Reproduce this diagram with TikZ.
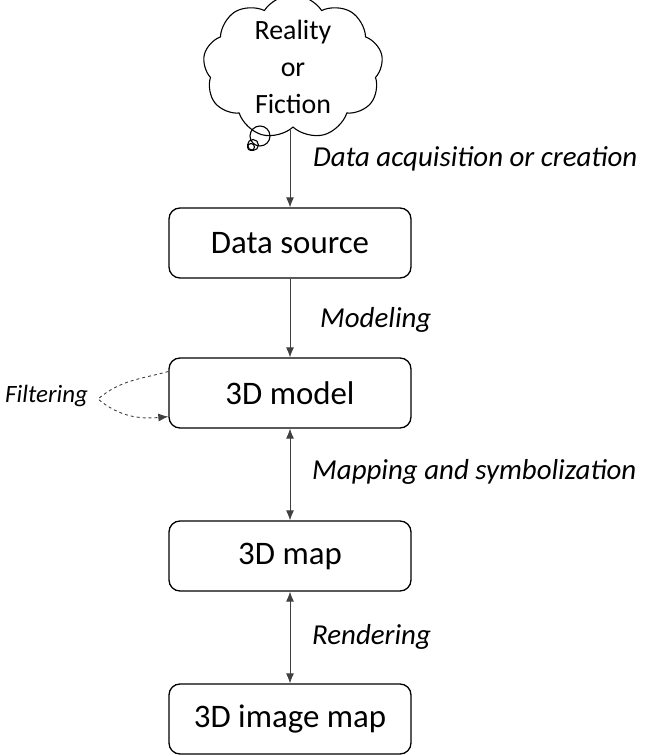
\documentclass[tikz,border=0pt]{standalone}
\usepackage{fontspec}
\setmainfont{Carlito}
\usetikzlibrary{shapes.symbols,arrows.meta}
\begin{document}
\begin{tikzpicture}[x=1bp, y=1bp,
    stage/.style={draw, line width=1.3bp, rounded corners=11bp, minimum width=242bp, minimum height=70bp, font=\fontsize{33}{38}\selectfont},
    flow/.style={line width=0.9bp, draw=black!75, -{Latex[length=10bp,width=8bp]}},
    twoway/.style={flow, {Latex[length=10bp,width=8bp]}-{Latex[length=10bp,width=8bp]}},
    step label/.style={anchor=base west, inner sep=0, font=\fontsize{29}{34}\selectfont\itshape}]
    \useasboundingbox (0, 0) rectangle (647, 756);
        \node (idea) at (293, 689) [draw, line width=1.1bp, cloud, cloud puffs=9, cloud puff arc=115, cloud ignores aspect, minimum width=180bp, minimum height=130bp, inner sep=0, align=center, font=\fontsize{28}{37}\selectfont] {Reality\\or\\Fiction};
        \draw[line width=1.1bp] (260, 620) circle (10);
        \draw[line width=1.1bp] (253, 611) circle (5.5);
        \draw[line width=1.1bp] (251, 609) circle (3.5);
        \node (source) at (290, 513) [stage] {Data source};
        \node (model) at (290, 363) [stage] {3D model};
        \node (map) at (290, 200) [stage] {3D map};
        \node (image) at (290, 37) [stage] {3D image map};
        \coordinate (filtip) at (98, 357);
        \draw[flow] (idea.south -| source.north) -- (source.north);
        \draw[flow] (source) -- (model);
        \draw[twoway] (model) -- (map);
        \draw[twoway] (map) -- (image);
        \draw[flow, dashed] (model.170) to[out=195, in=40] (filtip) to[out=-40, in=185] (model.191);
        \node at (313, 589) [step label] {Data acquisition or creation};
        \node at (320, 428) [step label] {Modeling};
        \node at (312, 276) [step label] {Mapping and symbolization};
        \node at (312, 111) [step label] {Rendering};
        \node at (5, 353) [step label, font=\fontsize{25}{30}\selectfont\itshape] {Filtering};
    \end{tikzpicture}
\end{document}
